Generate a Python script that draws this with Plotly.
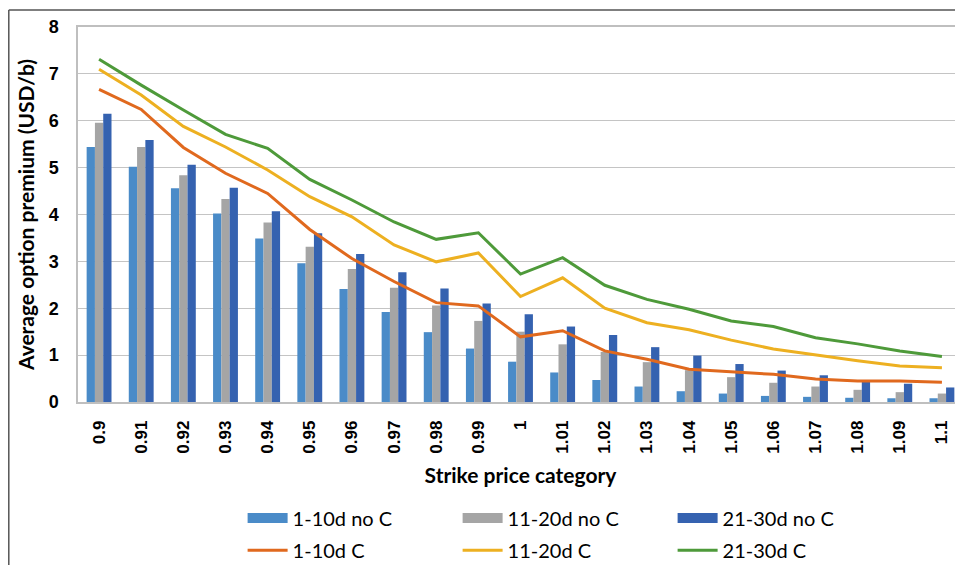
import plotly.graph_objects as go

categories = ["0.9", "0.91", "0.92", "0.93", "0.94", "0.95", "0.96", "0.97", "0.98", "0.99",
              "1", "1.01", "1.02", "1.03", "1.04", "1.05", "1.06", "1.07", "1.08", "1.09", "1.1"]

bar_1_10_noC = [5.44, 5.02, 4.56, 4.02, 3.49, 2.96, 2.41, 1.92, 1.49, 1.14,
                0.86, 0.63, 0.47, 0.33, 0.23, 0.18, 0.13, 0.11, 0.09, 0.08, 0.08]
bar_11_20_noC = [5.96, 5.44, 4.84, 4.33, 3.83, 3.31, 2.84, 2.44, 2.06, 1.73,
                 1.50, 1.23, 1.07, 0.85, 0.68, 0.53, 0.41, 0.33, 0.26, 0.21, 0.18]
bar_21_30_noC = [6.15, 5.59, 5.06, 4.57, 4.07, 3.60, 3.16, 2.77, 2.42, 2.10,
                 1.87, 1.61, 1.43, 1.17, 0.99, 0.81, 0.67, 0.57, 0.47, 0.39, 0.31]

line_1_10_C = [6.67, 6.24, 5.43, 4.88, 4.45, 3.68, 3.06, 2.57, 2.12, 2.05,
               1.39, 1.52, 1.09, 0.91, 0.70, 0.65, 0.59, 0.49, 0.45, 0.45, 0.42]
line_11_20_C = [7.10, 6.55, 5.88, 5.44, 4.95, 4.38, 3.95, 3.35, 2.99, 3.18,
                2.25, 2.65, 2.00, 1.69, 1.54, 1.32, 1.13, 1.00, 0.88, 0.77, 0.73]
line_21_30_C = [7.31, 6.76, 6.23, 5.71, 5.41, 4.75, 4.31, 3.84, 3.47, 3.61,
                2.73, 3.08, 2.49, 2.19, 1.98, 1.73, 1.61, 1.37, 1.24, 1.09, 0.97]

y_ticks = [0, 1, 2, 3, 4, 5, 6, 7, 8]

bar_series = [("1-10d no C", bar_1_10_noC, "#4a8bc8"),
              ("11-20d no C", bar_11_20_noC, "#a5a5a5"),
              ("21-30d no C", bar_21_30_noC, "#3562b0")]
line_series = [("1-10d C", line_1_10_C, "#e0691e"),
               ("11-20d C", line_11_20_C, "#edb021"),
               ("21-30d C", line_21_30_C, "#4e9a3a")]

fig = go.Figure()
for name, vals, col in bar_series:
    fig.add_trace(go.Bar(x=categories, y=vals, name=name, marker_color=col,
                         marker_line_width=0, showlegend=False))
    # legend proxy giving a wide rectangular swatch like the original
    fig.add_trace(go.Scatter(x=[None], y=[None], name=name, mode="lines",
                             line=dict(color=col, width=12), legend="legend",
                             hoverinfo="skip"))
for name, vals, col in line_series:
    fig.add_trace(go.Scatter(x=categories, y=vals, name=name, mode="lines",
                             line=dict(color=col, width=3), legend="legend2"))

x_tick_font = dict(family="Liberation Sans, Arial, sans-serif", size=17, color="#000000")
y_tick_font = dict(family="Liberation Sans, Arial, sans-serif", size=18, color="#000000")
title_font = dict(family="Lato, sans-serif", size=21, color="#000000")
legend_font = dict(family="Lato, sans-serif", size=20, color="#000000")

fig.update_layout(
    width=955, height=557,
    margin=dict(l=70, r=0, t=19, b=163, autoexpand=False),
    paper_bgcolor="white", plot_bgcolor="white",
    barmode="group", bargap=0.41, bargroupgap=0,
    showlegend=True,
    legend=dict(orientation="h", x=0.186, y=-0.309, xanchor="left", yanchor="middle",
                font=legend_font, entrywidth=160, entrywidthmode="pixels",
                itemwidth=40, traceorder="normal", bgcolor="rgba(0,0,0,0)"),
    legend2=dict(orientation="h", x=0.186, y=-0.395, xanchor="left", yanchor="middle",
                 font=legend_font, entrywidth=160, entrywidthmode="pixels",
                 itemwidth=40, traceorder="normal", bgcolor="rgba(0,0,0,0)"),
    xaxis=dict(type="category", tickangle=-90, tickfont=x_tick_font,
               tickvals=categories, ticktext=[f"<b>{c}</b>" for c in categories],
               showline=True, linecolor="#bfbfbf", linewidth=1.5, mirror=True,
               ticks="", showgrid=False, automargin=False, ticklabelstandoff=10,
               title=dict(text="<b>Strike price category</b>", font=title_font, standoff=16)),
    yaxis=dict(range=[0, 8], tickvals=y_ticks, ticktext=[f"<b>{v}</b>" for v in y_ticks],
               tickfont=y_tick_font, showgrid=True, gridcolor="#c4c4c4", gridwidth=1.2,
               showline=True, linecolor="#bfbfbf", linewidth=1.5, mirror=True,
               zeroline=False, ticks="", automargin=False, ticklabelstandoff=14,
               title=dict(text="<b>Average option premium (USD/b)</b>", font=title_font, standoff=8)),
    shapes=[
        dict(type="line", xref="paper", yref="paper", x0=-0.0782, x1=1.02, y0=1.0453, y1=1.0453,
             line=dict(color="#555555", width=1.5)),
        dict(type="line", xref="paper", yref="paper", x0=-0.0782, x1=-0.0782, y0=1.0453, y1=-0.5,
             line=dict(color="#555555", width=1.5)),
    ],
)

fig.write_html("out.html")
